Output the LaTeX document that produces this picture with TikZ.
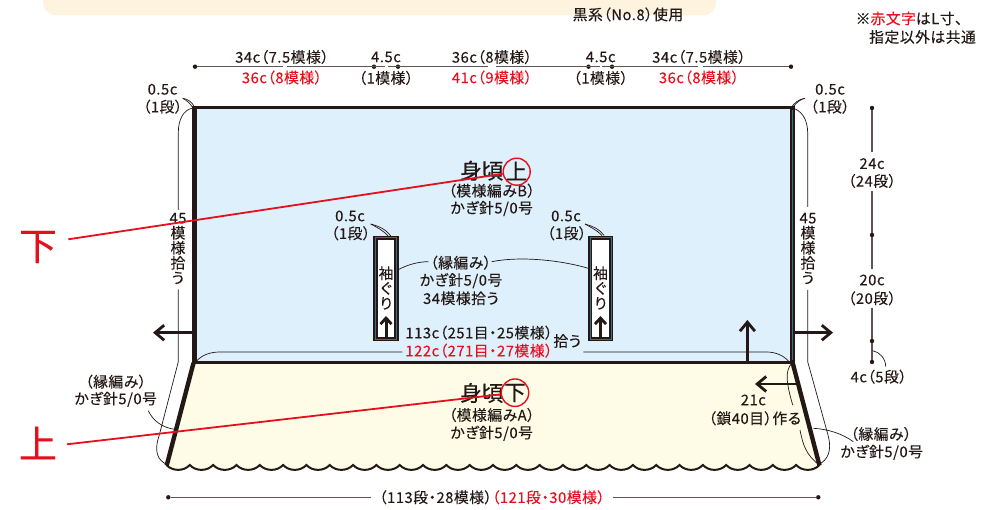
\documentclass[tikz,border=0pt]{standalone}
\usepackage{fontspec}
\setmainfont{Noto Sans CJK JP}[RawFeature=+palt,LetterSpace=3.5,FakeBold=0.12]
\newfontfamily\titlefont{Noto Sans CJK JP}[RawFeature=+palt,FakeBold=0.5]
\usetikzlibrary{arrows.meta}
\definecolor{ink}{HTML}{231815}
\definecolor{dimgr}{HTML}{5E5654}
\definecolor{rd}{HTML}{E60F1E}
\definecolor{bandc}{HTML}{FEF3DF}
\definecolor{bluec}{HTML}{DDF0FB}
\definecolor{yelc}{HTML}{FEFCE6}
\definecolor{tealc}{HTML}{3E6E85}
\tikzset{
 lab/.style={inner sep=0pt,text=ink,font=\fontsize{14.8}{15}\selectfont,align=center},
 redlab/.style={lab,text=rd},
 title/.style={inner sep=0pt,text=ink,font=\titlefont\fontsize{21.5}{22}\selectfont},
 big/.style={inner sep=0pt,text=rd,font=\fontsize{38}{40}\selectfont},
 dot/.style={circle,fill=ink,inner sep=0pt,minimum size=4.4pt},
 dimline/.style={draw=dimgr,line width=1.1pt},
 lead/.style={draw=ink,line width=0.7pt},
 thick border/.style={draw=ink,line width=3pt},
 sideb/.style={draw=ink,line width=5pt},
 bigarrow/.style={draw=ink,line width=2.8pt,-{Straight Barb[length=9pt,width=15pt,line width=2.8pt]}},
 smallarrow/.style={draw=ink,line width=3pt,-{Straight Barb[length=6pt,width=11pt,line width=2.8pt]}},
 redline/.style={draw=rd,line width=1.8pt},
 armhole/.style={rectangle,fill=white,draw=ink,line width=4.6pt,minimum width=21pt,minimum height=101pt,inner sep=0pt},
}
\begin{document}
\begin{tikzpicture}[x=1pt,y=-1pt]
\useasboundingbox (0,0) rectangle (989,510);
% band
\fill[bandc,rounded corners=13pt] (43,-30) rectangle (716,15.5);
\node[lab] (brand) at (628,14.5) {黒系（No.8）使用};
% note
\node[lab,anchor=west] (note1) at (855.5,18.5) {※\textcolor{rd}{赤文字}はL寸、};
\node[lab,anchor=west] (note2) at (869,37) {指定以外は共通};
% fills
\fill[bluec] (195,108) rectangle (792,362);
\fill[yelc] (194,362) -- (792,362) -- (819.5,465)
  \foreach \i [evaluate=\i as \a using 819.5-\i*23.32, evaluate=\i as \b using 819.5-(\i+1)*23.32] in {0,...,27} {
    .. controls (\a-6,471.5) and (\a-17.3,471.5) .. (\b,465)} -- cycle;
% scallop
\draw[ink,line width=2pt,line cap=round] (166.5,465)
  \foreach \i [evaluate=\i as \a using 166.5+\i*23.32, evaluate=\i as \b using 166.5+(\i+1)*23.32] in {0,...,27} {
    .. controls (\a+6,471.5) and (\a+17.3,471.5) .. (\b,465)};
% borders
\draw[thick border] (192,108) -- (795,108);
\draw[thick border] (192,362.3) -- (795,362.3);
\draw[sideb] (194,106.5) -- (194,364);
\draw[sideb] (792.5,106.5) -- (792.5,364);
\draw[tealc,line width=0.7pt] (792.5,110) -- (792.5,360);
\draw[ink,line width=4.4pt] (193.5,363) -- (166.7,465.5);
\draw[ink,line width=4.4pt] (792.7,363) -- (819.5,465.5);
% armholes
\node[armhole] (armL) at (386,288.4) {};
\node[armhole] (armR) at (600.5,288.4) {};
\draw[tealc,line width=0.7pt] (armL.north west) ++(2.2,2.2) rectangle ([xshift=-2.2pt,yshift=2.2pt]armL.south east);
\draw[tealc,line width=0.7pt] (armR.north west) ++(2.2,2.2) rectangle ([xshift=-2.2pt,yshift=2.2pt]armR.south east);
\node[lab] (sodeL) at (386,288) {袖\\ぐ\\り};
\node[lab] (sodeR) at (600.5,288) {袖\\ぐ\\り};
\coordinate (aLb) at (386,339); \coordinate (aLt) at (386,316);
\coordinate (aRb) at (600.5,339); \coordinate (aRt) at (600.5,316);
\draw[smallarrow] (aLb) -- (aLt);
\draw[smallarrow] (aRb) -- (aRt);
% big arrows
\coordinate (a1s) at (192,332.7); \coordinate (a1e) at (153,332.7);
\coordinate (a2s) at (794,332.7); \coordinate (a2e) at (833,332.7);
\coordinate (a3s) at (747.4,361); \coordinate (a3e) at (747.4,320);
\coordinate (a4s) at (797,384); \coordinate (a4e) at (755,384);
\draw[bigarrow] (a1s) -- (a1e);
\draw[bigarrow] (a2s) -- (a2e);
\draw[bigarrow] (a3s) -- (a3e);
\draw[bigarrow] (a4s) -- (a4e);
% top dimension
\node[dot] (t0) at (195,66.7) {};
\node[dot] (t1) at (374,66.7) {};
\node[dot] (t2) at (398,66.7) {};
\node[dot] (t3) at (588.5,66.7) {};
\node[dot] (t4) at (612,66.7) {};
\node[dot] (t5) at (791,66.7) {};
\coordinate (g1a) at (283,66.7); \coordinate (g1b) at (287,66.7);
\coordinate (g2a) at (385,66.7); \coordinate (g2b) at (387.5,66.7);
\coordinate (g3a) at (487.5,66.7); \coordinate (g3b) at (496,66.7);
\coordinate (g4a) at (599.5,66.7); \coordinate (g4b) at (602,66.7);
\coordinate (g5a) at (698,66.7); \coordinate (g5b) at (703,66.7);
\draw[dimline] (t0) -- (g1a) (g1b) -- (g2a) (g2b) -- (g3a) (g3b) -- (g4a) (g4b) -- (g5a) (g5b) -- (t5);
\node[lab] (d1) at (282,57) {34c（7.5模様）};
\node[redlab] (d1r) at (282,77.5) {36c（8模様）};
\node[lab] (d2) at (386,57) {4.5c};
\node[lab] (d2b) at (386,78) {（1模様）};
\node[lab] (d3) at (492,57) {36c（8模様）};
\node[redlab] (d3r) at (492,77.5) {41c（9模様）};
\node[lab] (d4) at (600.7,57) {4.5c};
\node[lab] (d4b) at (600.7,78) {（1模様）};
\node[lab] (d5) at (699,57) {34c（7.5模様）};
\node[redlab] (d5r) at (699,77.5) {36c（8模様）};
% corner labels
\node[lab] (c1) at (162.5,89.3) {0.5c};
\node[lab] (c1b) at (162.7,106.7) {（1段）};
\node[lab] (c2) at (830,89.3) {0.5c};
\node[lab] (c2b) at (830,106.7) {（1段）};
\node[lab] (c3) at (350,216) {0.5c};
\node[lab] (c3b) at (350.7,233.3) {（1段）};
\node[lab] (c4) at (566,216) {0.5c};
\node[lab] (c4b) at (566.7,233.3) {（1段）};
% short leaders
\coordinate (s1) at (182.7,98.3); \coordinate (s1e) at (195,108);
\draw[lead] (s1) .. controls (188,99) and (192,102) .. (s1e);
\draw[lead] (s1) .. controls (186,100) and (190,103) .. (193,108);
\coordinate (s2) at (805,98.3); \coordinate (s2e) at (791,108);
\draw[lead] (s2) .. controls (799,99) and (794,103) .. (s2e);
\draw[lead] (s2) .. controls (801,99) and (797,102) .. (793,107);
\coordinate (s3) at (370.7,224); \coordinate (s3e) at (390.7,236);
\draw[lead] (s3) .. controls (378,226) and (386,229) .. (s3e);
\draw[lead] (s3) .. controls (376,227) and (383,230) .. (388,236);
\coordinate (s4) at (585,224); \coordinate (s4e) at (604,235.5);
\draw[lead] (s4) .. controls (592,226) and (600,229) .. (s4e);
\draw[lead] (s4) .. controls (590,227) and (597,230) .. (602,235.5);
% side curves
\coordinate (L0) at (192.7,108); \coordinate (L1) at (178.3,133); \coordinate (L2) at (178.3,210);
\coordinate (L3) at (178.3,289.3); \coordinate (L4) at (178.3,361.7); \coordinate (L5) at (159.3,435); \coordinate (L6) at (166,464);
\draw[lead] (L0) .. controls (183,110) and (178.3,120) .. (L1) -- (L2);
\draw[lead] (L3) -- (L4) -- (L5) .. controls (153.5,452) and (158,460) .. (L6);
\coordinate (R0) at (791.7,108); \coordinate (R1) at (807.7,133); \coordinate (R2) at (807.7,207);
\coordinate (R3) at (807.7,290); \coordinate (R4) at (807.7,361.7); \coordinate (R5) at (828,435); \coordinate (R6) at (819.5,464);
\draw[lead] (R0) .. controls (802,110) and (807.7,120) .. (R1) -- (R2);
\draw[lead] (R3) -- (R4) -- (R5) .. controls (832.5,452) and (827,460) .. (R6);
\node[lab] (v1) at (178,248.5) {45\\模\\様\\拾\\う};
\node[lab] (v2) at (808,248.5) {45\\模\\様\\拾\\う};
% right dimension
\node[dot] (r0) at (872,108) {};
\node[dot] (r1) at (872,235) {};
\node[dot] (r2) at (872,341) {};
\node[dot] (r3) at (872,362) {};
\node[lab] (r24) at (872,163.7) {24c};
\node[lab] (r24b) at (872,181) {（24段）};
\node[lab] (r20) at (872,280) {20c};
\node[lab] (r20b) at (872,298.3) {（20段）};
\node[lab] (r4) at (878.7,376.7) {4c（5段）};
\coordinate (m1) at (872,152); \coordinate (m2) at (872,191.5);
\coordinate (m3) at (872,269); \coordinate (m4) at (872,307.7);
\draw[dimline] (r0) -- (m1) (m2) -- (r1) -- (m3) (m4) -- (r2) -- (r3);
\coordinate (q1) at (872.7,350.7); \coordinate (q2) at (885.7,366.7);
\draw[lead] (q1) .. controls (880,352) and (885.7,359) .. (q2);
% centre text
\node[title,anchor=west] (t1a) at (460,170.7) {身頃};
\node[title] (t1b) at (516.5,171) {上};
\node[lab] (t1c) at (491.7,190.7) {（模様編みB）};
\node[lab] (t1d) at (491.7,208.5) {かぎ針5/0号};
\node[title,anchor=west] (t2a) at (460,393) {身頃};
\node[title] (t2b) at (515,393) {下};
\node[lab] (t2c) at (491.7,415) {（模様編みA）};
\node[lab] (t2d) at (491.7,433.3) {かぎ針5/0号};
\node[lab] (e1) at (460.7,262.7) {（縁編み）};
\node[lab] (e2) at (461,280.7) {かぎ針5/0号};
\node[lab] (e3) at (461,298.3) {34模様拾う};
\node[lab] (p1) at (479,332.7) {113c（251目・25模様）};
\node[redlab] (p2) at (479,350.7) {122c（271目・27模様）};
\node[lab] (p3) at (567.3,341) {拾う};
\coordinate (e1L) at (428.3,261.7); \coordinate (e1R) at (491.7,261.7);
\draw[lead] (armL.east) ++(0,-19) .. controls (407,265) and (418,261.7) .. (e1L);
\draw[lead] (e1R) .. controls (520,256) and (560,260) .. (588.3,268.3);
\coordinate (b1) at (402.3,352); \coordinate (b2) at (583.3,352);
\draw[lead] (196.7,361) .. controls (202,355) and (210,352) .. (220,352) -- (b1);
\draw[lead] (b2) -- (766.7,352) .. controls (776,352) and (785,356) .. (790,363);
% hem leaders
\node[lab] (h1) at (115.7,381.7) {（縁編み）};
\node[lab] (h2) at (115.7,399.3) {かぎ針5/0号};
\coordinate (h3) at (148.3,410.7); \coordinate (h4) at (175,429.3);
\draw[lead] (h3) .. controls (153,421) and (163,428) .. (h4);
\node[lab] (k1) at (881,434) {（縁編み）};
\node[lab] (k2) at (881.7,452.3) {かぎ針5/0号};
\coordinate (k3) at (853.3,441.7); \coordinate (k4) at (813.3,428.3);
\draw[lead] (k3) .. controls (843,434) and (828,429) .. (k4);
\node[lab] (w1) at (753.3,400) {21c};
\node[lab] (w2) at (754.8,418.3) {（鎖40目）作る};
\coordinate (w3) at (791.7,363.3); \coordinate (w4) at (792.7,405); \coordinate (w5) at (800,430); \coordinate (w6) at (819.3,465);
\draw[lead] (w3) .. controls (785,371) and (786,382) .. (w4);
\draw[lead] (w5) .. controls (803,445) and (806,455) .. (w6);
% bottom dimension
\node[dot] (b0) at (168.3,497.3) {};
\node[dot] (b9) at (818.3,497.3) {};
\coordinate (b3) at (370.7,497.3); \coordinate (b4) at (613.3,497.3);
\draw[dimline] (b0) -- (b3) (b4) -- (b9);
\node[lab] (bt) at (492,497.3) {（113段・28模様）\textcolor{rd}{（121段・30模様）}};
% red
\node[big] (shita) at (38,247) {下};
\node[big] (ue) at (38,443) {上};
\node[circle,draw=rd,line width=1.4pt,minimum size=27pt,inner sep=0pt] (cu) at (516.7,171.7) {};
\node[circle,draw=rd,line width=1.4pt,minimum size=27.5pt,inner sep=0pt] (cs) at (515,392.7) {};
\draw[redline] (68.3,239.3) -- (cu);
\draw[redline] (67,444.3) -- (cs);
\end{tikzpicture}
\end{document}
